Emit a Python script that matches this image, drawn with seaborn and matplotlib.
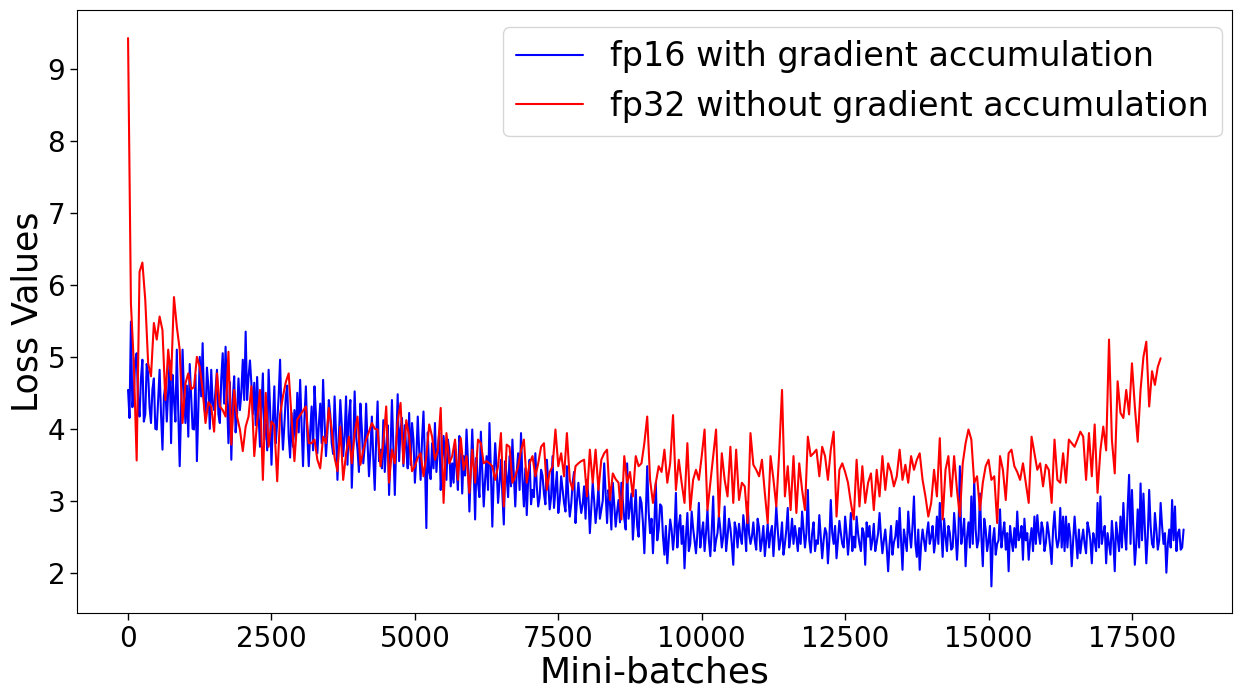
import numpy as np
import pandas as pd
import seaborn as sns
import matplotlib
matplotlib.use("Agg")
import matplotlib.pyplot as plt

# ---------------- data ----------------
blue_label = "fp16 with gradient accumulation"
red_label = "fp32 without gradient accumulation"
blue_step = 25   # mini-batches between logged fp16 points
red_step = 50    # mini-batches between logged fp32 points

# fp16 loss, every 25 mini-batches (0 .. 18400)
fp16_loss = [
    # 0 - 2200
    4.54, 4.15, 5.49, 4.30, 4.50, 4.95, 5.05, 4.40, 4.17, 4.70, 4.96, 4.10, 4.20, 4.90, 4.77,
    4.30, 4.08, 4.55, 4.70, 4.00, 3.99, 4.40, 4.82, 4.20, 3.71, 4.45, 4.60, 4.10, 4.54, 4.95,
    3.80, 4.75, 4.40, 4.10, 5.10, 4.25, 3.48, 4.30, 5.10, 4.50, 4.08, 4.60, 3.89, 4.90, 4.45,
    4.00, 3.99, 4.75, 3.55, 4.30, 5.00, 4.45, 5.19, 4.35, 4.16, 4.85, 4.59, 4.00, 4.82, 4.35,
    4.26, 4.55, 4.82, 4.20, 4.08, 4.70, 5.05, 4.35, 5.14, 4.40, 3.80, 4.65, 3.57, 4.40, 4.73,
    3.95, 4.20, 4.70, 4.26, 4.50, 4.96, 4.40, 5.35, 4.40, 4.72, 4.95, 4.63, 4.20, 4.64,
    # 2225 - 4550
    4.05, 4.72, 4.20, 3.75, 4.30, 4.77, 3.85, 4.30, 3.70, 4.82, 4.30, 3.50, 4.10, 4.59, 3.80,
    4.10, 4.45, 4.96, 4.15, 3.71, 4.05, 4.45, 4.60, 3.90, 3.60, 4.22, 3.75, 4.26, 3.85, 4.50,
    3.95, 4.68, 4.05, 3.48, 4.15, 4.59, 3.90, 3.48, 3.95, 4.31, 3.70, 4.59, 4.20, 3.66, 4.05,
    4.35, 3.80, 4.68, 4.10, 3.62, 3.95, 4.40, 4.20, 3.80, 3.65, 4.45, 3.95, 3.29, 3.90, 4.40,
    4.05, 3.62, 3.90, 4.45, 3.50, 4.17, 4.40, 3.18, 3.75, 4.52, 3.90, 3.71, 3.40, 4.35, 4.00,
    3.52, 3.75, 4.35, 3.80, 3.34, 3.70, 4.17, 3.60, 3.15, 3.85, 4.38, 3.55, 3.71, 3.45, 4.12,
    3.40, 3.75, 4.05, 3.08,
    # 4575 - 6900
    3.70, 4.40, 3.75, 3.08, 3.80, 4.48, 3.55, 3.99, 4.15, 3.48, 4.05, 3.71, 3.45, 4.22, 3.50,
    4.08, 3.85, 3.25, 3.60, 4.17, 3.70, 3.29, 3.85, 4.24, 3.55, 2.62, 3.95, 3.40, 3.30, 3.80,
    3.45, 4.08, 3.40, 3.71, 3.95, 3.15, 3.50, 3.90, 3.60, 3.29, 3.85, 3.71, 3.20, 3.52, 3.25,
    3.80, 3.45, 3.15, 3.90, 3.71, 3.10, 3.62, 3.35, 3.99, 3.55, 2.85, 3.40, 3.99, 3.45, 2.74,
    3.60, 3.25, 3.05, 3.96, 3.40, 2.92, 3.30, 3.62, 3.15, 4.08, 3.40, 2.64, 3.35, 3.80, 3.45,
    2.97, 3.25, 3.57, 3.10, 2.67, 3.55, 3.34, 3.05, 3.62, 3.20, 3.85, 3.35, 2.92, 3.40, 3.66,
    3.15, 3.94, 3.30, 2.92,
    # 6925 - 9250
    3.45, 2.80, 3.30, 3.57, 2.95, 3.15, 3.05, 3.66, 3.20, 2.92, 3.05, 3.43, 3.35, 3.10, 2.95,
    3.57, 3.25, 2.88, 3.05, 3.62, 2.90, 3.15, 3.40, 2.83, 3.00, 3.34, 3.15, 2.97, 2.85, 3.48,
    3.05, 2.78, 2.95, 3.25, 3.40, 2.69, 3.00, 3.25, 3.00, 2.83, 2.95, 3.20, 2.75, 3.29, 3.05,
    2.55, 2.90, 3.25, 3.00, 2.69, 2.90, 3.20, 2.75, 2.88, 3.00, 3.52, 3.10, 2.69, 3.15, 2.97,
    2.60, 3.25, 2.95, 2.64, 2.85, 3.01, 2.70, 3.25, 3.00, 2.75, 2.60, 3.52, 2.75, 2.92, 3.10,
    2.46, 2.80, 3.15, 2.65, 2.50, 3.05, 2.97, 2.70, 2.27, 2.80, 3.48, 2.85, 2.55, 2.75, 2.27,
    2.70, 3.25, 2.45, 2.60,
    # 9275 - 11600
    2.95, 2.92, 2.50, 2.25, 2.65, 2.13, 2.45, 2.74, 2.60, 2.32, 2.55, 3.11, 2.35, 2.65, 2.80,
    2.40, 2.65, 2.06, 2.50, 2.83, 2.30, 2.40, 2.85, 2.62, 2.45, 2.27, 2.55, 2.97, 2.35, 2.55,
    2.70, 2.30, 2.55, 2.88, 2.45, 2.23, 2.60, 3.06, 2.30, 2.45, 2.55, 2.80, 2.60, 2.35, 2.50,
    2.92, 2.30, 2.50, 2.75, 2.62, 2.40, 2.11, 2.70, 2.60, 2.35, 2.68, 2.50, 2.40, 2.80, 2.60,
    2.30, 2.98, 2.55, 2.40, 2.50, 2.70, 2.45, 2.32, 2.75, 2.62, 2.30, 2.45, 2.65, 2.23, 2.45,
    2.68, 2.35, 2.55, 2.65, 2.23, 2.55, 2.92, 2.60, 2.32, 2.45, 2.70, 2.25, 2.40, 2.60, 2.90,
    2.35, 2.50, 2.75, 2.40,
    # 11625 - 13950
    2.65, 2.50, 2.30, 2.62, 2.40, 2.85, 2.60, 2.35, 2.55, 3.15, 2.45, 2.28, 2.55, 2.70, 2.30,
    2.45, 2.40, 2.80, 2.50, 2.20, 2.45, 2.62, 2.55, 2.13, 2.45, 3.01, 2.55, 2.40, 2.65, 2.20,
    2.45, 2.72, 2.55, 2.40, 2.35, 2.78, 2.55, 2.25, 2.50, 2.83, 2.30, 2.50, 2.35, 2.78, 2.55,
    2.40, 2.30, 2.62, 2.55, 2.11, 2.70, 2.50, 2.65, 2.32, 2.45, 2.68, 2.30, 2.42, 2.55, 2.83,
    2.50, 2.27, 2.45, 2.60, 2.35, 2.02, 2.40, 2.65, 2.25, 2.42, 2.50, 2.72, 2.35, 2.90, 2.45,
    2.04, 2.60, 2.45, 2.30, 2.85, 2.55, 2.35, 2.65, 3.06, 2.40, 2.22, 2.60, 2.04, 2.40, 2.60,
    2.45, 2.30, 2.55, 2.70,
    # 13975 - 16250
    2.40, 2.50, 2.65, 2.28, 2.45, 2.78, 2.40, 2.97, 2.60, 2.22, 2.75, 2.50, 2.30, 2.65, 2.55,
    2.32, 2.35, 2.83, 2.55, 2.18, 2.55, 3.48, 2.40, 2.55, 2.75, 2.09, 2.50, 2.70, 2.35, 3.06,
    2.40, 3.29, 2.60, 2.35, 2.45, 3.10, 2.50, 2.09, 2.75, 2.60, 2.30, 2.45, 2.65, 1.81, 2.45,
    2.62, 2.25, 2.40, 2.45, 2.88, 2.35, 2.55, 2.70, 2.32, 2.55, 2.02, 2.65, 2.45, 2.30, 2.62,
    2.35, 2.85, 2.45, 2.50, 2.65, 2.18, 2.75, 2.45, 2.55, 2.18, 2.45, 2.62, 2.30, 2.78, 2.40,
    2.80, 2.55, 2.40, 2.70, 2.60, 2.30, 2.42, 2.70, 2.55, 2.35, 2.12, 2.60, 2.85, 2.50, 2.35,
    2.45, 2.90,
    # 16275 - 18400
    2.35, 2.78, 2.30, 2.78, 2.35, 2.68, 2.50, 2.09, 2.45, 2.78, 2.50, 2.20, 2.60, 2.27, 2.45,
    2.60, 2.40, 2.27, 2.70, 2.60, 2.45, 2.13, 2.55, 2.45, 2.30, 2.97, 2.35, 3.06, 2.40, 2.55,
    2.65, 2.13, 2.55, 2.40, 2.25, 2.72, 2.45, 2.02, 2.70, 2.50, 2.30, 2.78, 2.35, 2.97, 2.55,
    2.32, 2.90, 3.36, 2.40, 3.15, 2.60, 2.11, 2.40, 2.88, 2.35, 3.24, 2.45, 3.10, 2.60, 2.13,
    2.50, 3.15, 2.65, 2.40, 2.35, 2.83, 2.60, 2.32, 2.45, 2.97, 2.65, 2.40, 2.55, 2.00, 2.40,
    2.60, 2.35, 3.01, 2.45, 2.92, 2.30, 2.55, 2.60, 2.32, 2.35, 2.60,
]

# fp32 loss, every 50 mini-batches (0 .. 18000)
fp32_loss = [
    # 0 - 2200
    9.43, 5.74, 4.91, 3.56, 6.18, 6.31, 5.79, 4.91, 4.73, 5.47, 5.24, 5.56, 5.37, 4.40, 5.10,
    4.68, 5.83, 5.42, 5.10, 4.08, 4.63, 4.77, 4.55, 4.58, 5.00, 4.86, 4.54, 4.08, 4.37, 4.31,
    3.96, 4.77, 4.31, 4.26, 4.17, 5.07, 3.78, 4.54, 4.17, 3.99, 3.69, 4.03, 4.17, 4.59, 3.62,
    # 2250 - 4550
    4.10, 4.54, 3.29, 4.50, 3.75, 4.10, 4.05, 3.27, 4.20, 4.45, 4.65, 4.77, 4.17, 3.55, 4.13,
    4.19, 4.25, 4.31, 3.80, 3.80, 3.85, 3.57, 3.45, 3.89, 3.80, 4.29, 3.99, 3.60, 3.41, 4.03,
    3.29, 3.65, 3.89, 3.52, 3.94, 4.17, 3.50, 3.70, 3.85, 3.96, 4.08, 4.00, 3.99, 3.48, 3.80,
    4.31, 3.25,
    # 4600 - 6900
    3.71, 3.52, 4.10, 4.36, 3.52, 4.12, 3.89, 3.41, 3.48, 3.60, 3.66, 3.34, 3.62, 4.06, 3.89,
    3.57, 3.70, 4.29, 2.97, 3.94, 3.52, 3.62, 3.85, 3.29, 3.87, 3.43, 3.62, 3.11, 3.71, 3.25,
    3.85, 3.80, 3.52, 3.55, 3.52, 3.48, 3.29, 3.48, 3.94, 2.92, 3.78, 3.75, 3.25, 3.34, 3.48,
    3.70, 3.85,
    # 6950 - 9250
    3.25, 3.52, 3.62, 3.34, 3.52, 3.75, 3.80, 3.15, 3.40, 3.48, 3.99, 3.48, 3.66, 3.34, 3.94,
    3.29, 3.15, 3.48, 3.52, 3.55, 3.57, 3.06, 3.71, 3.25, 3.71, 3.15, 3.57, 3.66, 3.71, 3.01,
    3.38, 3.30, 3.25, 2.74, 3.62, 3.25, 3.40, 3.06, 3.62, 3.48, 3.52, 3.80, 4.17, 3.29, 2.97,
    3.25, 3.48,
    # 9300 - 11600
    3.40, 3.71, 3.25, 3.52, 4.19, 3.15, 3.57, 3.25, 2.97, 3.80, 2.87, 3.29, 3.43, 3.29, 3.62,
    3.99, 2.87, 3.25, 3.62, 3.99, 2.78, 3.66, 3.29, 3.06, 3.75, 2.97, 3.71, 3.01, 3.25, 3.20,
    2.69, 3.94, 3.50, 3.43, 3.34, 3.57, 3.11, 2.69, 3.62, 3.30, 2.92, 3.66, 4.54, 3.06, 3.48,
    2.87, 3.62,
    # 11650 - 13950
    2.83, 3.52, 3.15, 2.87, 3.89, 3.62, 3.66, 3.71, 3.34, 3.75, 3.62, 3.29, 3.71, 3.96, 2.78,
    3.43, 3.52, 3.40, 3.25, 2.97, 2.74, 3.57, 2.92, 3.48, 2.97, 3.25, 3.38, 2.87, 3.43, 3.06,
    3.62, 3.15, 3.52, 3.40, 3.20, 3.34, 3.71, 3.29, 3.50, 3.25, 3.62, 3.43, 3.57, 3.66, 3.29,
    3.06, 2.78,
    # 14000 - 16250
    2.97, 3.43, 3.06, 3.87, 2.74, 3.43, 3.62, 3.06, 3.62, 3.15, 2.78, 3.52, 3.80, 3.99, 3.85,
    3.25, 3.34, 2.87, 3.25, 3.48, 3.57, 3.29, 3.34, 2.69, 3.62, 3.43, 3.01, 3.66, 3.71, 3.48,
    3.40, 3.29, 3.52, 3.25, 2.97, 3.89, 3.66, 3.43, 3.52, 3.20, 3.50, 3.43, 2.97, 3.85, 3.29,
    3.25,
    # 16300 - 18000
    3.66, 3.25, 3.85, 3.80, 3.75, 3.85, 3.96, 3.89, 3.29, 3.94, 3.34, 4.06, 3.11, 3.70, 4.03,
    3.70, 5.24, 3.85, 3.38, 4.66, 4.22, 4.15, 4.54, 4.20, 4.91, 4.31, 3.82, 4.54, 5.00, 5.21,
    4.31, 4.80, 4.61, 4.86, 4.98,
]

x_ticks = [0, 2500, 5000, 7500, 10000, 12500, 15000, 17500]
y_ticks = [2, 3, 4, 5, 6, 7, 8, 9]

# ---------------- build long table ----------------
df_fp16 = pd.DataFrame({"batch": np.arange(len(fp16_loss)) * blue_step,
                        "loss": fp16_loss, "run": blue_label})
df_fp32 = pd.DataFrame({"batch": np.arange(len(fp32_loss)) * red_step,
                        "loss": fp32_loss, "run": red_label})
data = pd.concat([df_fp16, df_fp32], ignore_index=True)

# ---------------- plot ----------------
sns.set_style("ticks", {"axes.edgecolor": "black", "xtick.color": "black",
                        "ytick.color": "black", "axes.linewidth": 1.0,
                        "text.color": "black", "axes.labelcolor": "black"})
plt.rcParams["font.family"] = ["DejaVu Sans"]

fig = plt.figure(figsize=(12.48, 7.0), dpi=100)
ax = fig.add_axes([0.0617, 0.1243, 0.9253, 0.8614])

sns.lineplot(data=data, x="batch", y="loss", hue="run",
             palette={blue_label: "blue", red_label: "red"},
             estimator=None, linewidth=1.5, ax=ax)

ax.set_xticks(x_ticks)
ax.set_yticks(y_ticks)
ax.set_xlim(-890, 19240)
ax.set_ylim(1.44, 9.82)
ax.tick_params(axis="both", labelsize=20, length=5, width=1, direction="out",
               labelcolor="black")
ax.set_xlabel("Mini-batches", fontsize=26, color="black", labelpad=2)
ax.set_ylabel("Loss Values", fontsize=25, color="black", labelpad=2)

handles, labels = ax.get_legend_handles_labels()
leg = ax.legend(handles, labels, loc="upper right", bbox_to_anchor=(0.9913, 0.9718),
                borderaxespad=0, fontsize=24, frameon=True, framealpha=0.8,
                edgecolor="0.8", fancybox=True)
for txt in leg.get_texts():
    txt.set_color("black")

fig.savefig("out.png", dpi=100)
